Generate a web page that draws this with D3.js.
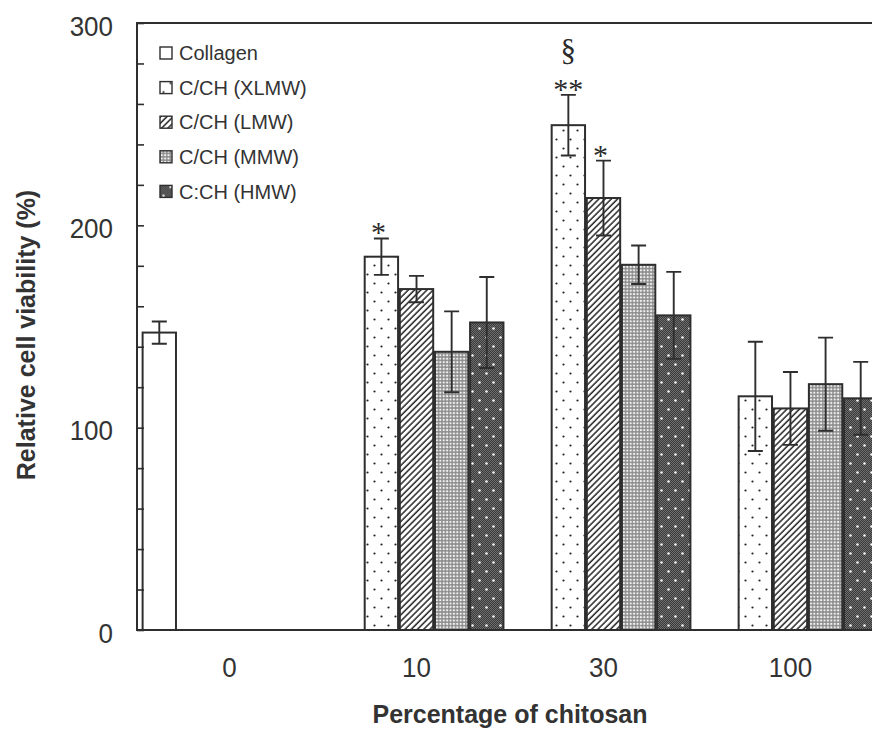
<!DOCTYPE html>
<html>
<head>
<meta charset="utf-8">
<script src="https://cdn.jsdelivr.net/npm/d3@7"></script>
<style>
  html, body { margin: 0; padding: 0; background: #fff; }
  svg { display: block; }
</style>
</head>
<body>
<svg id="chart" width="872" height="729"></svg>
<script>
// Chitosan content groups and material series
const categories = ["0", "10", "30", "100"];
const series = ["Collagen", "C/CH (XLMW)", "C/CH (LMW)", "C/CH (MMW)", "C:CH (HMW)"];

// Mean relative cell viability (%) per group; null = not measured
const collagen = [147, null, null, null];
const xlmw     = [null, 184.5, 249.5, 115.5];
const lmw      = [null, 168.5, 213.5, 109.5];
const mmw      = [null, 137.5, 180.5, 121.5];
const hmw      = [null, 152, 155.5, 114.5];

// Standard deviations
const collagenErr = [5.5, null, null, null];
const xlmwErr     = [null, 9, 15, 27];
const lmwErr      = [null, 6.5, 18.5, 18];
const mmwErr      = [null, 20, 9.5, 23];
const hmwErr      = [null, 22.5, 21.5, 18];

// Y axis ticks
const majorTicks = [0, 100, 200, 300];
const minorTicks = d3.range(0, 301, 20);

// Significance marks: group, series, symbol, stacking level
const sigGroup  = ["10", "30", "30", "30"];
const sigSeries = ["C/CH (XLMW)", "C/CH (XLMW)", "C/CH (LMW)", "C/CH (XLMW)"];
const sigText   = ["*", "**", "*", "§"];
const sigLevel  = [0, 0, 0, 1];

const values = [collagen, xlmw, lmw, mmw, hmw];
const errors = [collagenErr, xlmwErr, lmwErr, mmwErr, hmwErr];
const fills = ["#ffffff", "url(#pat-xlmw)", "url(#pat-lmw)", "url(#pat-mmw)", "url(#pat-hmw)"];

const ink = "#2e2e2e";
const textInk = "#333333";
const sans = "Liberation Sans, Arial, sans-serif";

const svg = d3.select("#chart");

// ---- fill patterns ----
const defs = svg.append("defs");

const pDots = defs.append("pattern").attr("id", "pat-xlmw")
  .attr("patternUnits", "userSpaceOnUse").attr("width", 14).attr("height", 18);
pDots.append("rect").attr("width", 14).attr("height", 18).attr("fill", "#fff");
pDots.append("circle").attr("cx", 3.5).attr("cy", 4.5).attr("r", 1.1).attr("fill", "#222");
pDots.append("circle").attr("cx", 10.5).attr("cy", 13.5).attr("r", 1.1).attr("fill", "#222");

const pHatch = defs.append("pattern").attr("id", "pat-lmw")
  .attr("patternUnits", "userSpaceOnUse").attr("width", 4.4).attr("height", 10)
  .attr("patternTransform", "rotate(45)");
pHatch.append("rect").attr("width", 4.4).attr("height", 10).attr("fill", "#fff");
pHatch.append("line").attr("x1", 1).attr("x2", 1).attr("y1", 0).attr("y2", 10)
  .attr("stroke", "#262626").attr("stroke-width", 1.5);

const pFine = defs.append("pattern").attr("id", "pat-mmw")
  .attr("patternUnits", "userSpaceOnUse").attr("width", 3.4).attr("height", 3.4);
pFine.append("rect").attr("width", 3.4).attr("height", 3.4).attr("fill", "#8c8c8c");
pFine.append("circle").attr("cx", 1.7).attr("cy", 1.7).attr("r", 1.15).attr("fill", "#f2f2f2");

const pCheck = defs.append("pattern").attr("id", "pat-check")
  .attr("patternUnits", "userSpaceOnUse").attr("width", 2).attr("height", 2);
pCheck.append("rect").attr("width", 2).attr("height", 2).attr("fill", "#3a3a3a");
pCheck.append("rect").attr("width", 1).attr("height", 1).attr("fill", "#6e6e6e");
pCheck.append("rect").attr("x", 1).attr("y", 1).attr("width", 1).attr("height", 1).attr("fill", "#6e6e6e");

const pDark = defs.append("pattern").attr("id", "pat-hmw")
  .attr("patternUnits", "userSpaceOnUse").attr("width", 14).attr("height", 18);
pDark.append("rect").attr("width", 14).attr("height", 18).attr("fill", "url(#pat-check)");
pDark.append("circle").attr("cx", 3.5).attr("cy", 4.5).attr("r", 1.3).attr("fill", "#f4f4f4");
pDark.append("circle").attr("cx", 10.5).attr("cy", 13.5).attr("r", 1.3).attr("fill", "#f4f4f4");

// ---- scales ----
const y = d3.scaleLinear().domain([0, 300]).range([630, 23]);
const x0 = d3.scaleBand().domain(categories).range([137, 883])
  .paddingInner(0.07).paddingOuter(0.03);
const x1 = d3.scaleBand().domain(series).range([0, x0.bandwidth()]).paddingInner(0.05);

// ---- bars ----
const barData = [];
series.forEach((s, si) => {
  categories.forEach((c, ci) => {
    const v = values[si][ci];
    if (v != null) barData.push({ s, si, c, v, e: errors[si][ci] });
  });
});

const bars = svg.append("g");
bars.selectAll("rect").data(barData).join("rect")
  .attr("x", d => x0(d.c) + x1(d.s))
  .attr("y", d => y(d.v))
  .attr("width", x1.bandwidth())
  .attr("height", d => y(0) - y(d.v))
  .attr("fill", d => fills[d.si])
  .attr("stroke", ink).attr("stroke-width", 2);

// ---- error bars ----
const capHalf = 7.5;
const eb = svg.append("g").attr("stroke", ink).attr("stroke-width", 1.9).attr("fill", "none");
eb.selectAll("path").data(barData.filter(d => d.e != null)).join("path")
  .attr("d", d => {
    const cx = x0(d.c) + x1(d.s) + x1.bandwidth() / 2;
    const top = y(d.v + d.e), bot = y(d.v - d.e);
    return `M${cx},${top}V${bot}M${cx - capHalf},${top}H${cx + capHalf}M${cx - capHalf},${bot}H${cx + capHalf}`;
  });

// ---- frame ----
const frame = svg.append("g").attr("stroke", ink).attr("stroke-width", 2).attr("fill", "none");
frame.append("line").attr("x1", 137).attr("x2", 872).attr("y1", y(300)).attr("y2", y(300));
frame.append("line").attr("x1", 137).attr("x2", 872).attr("y1", y(0)).attr("y2", y(0));
frame.append("line").attr("x1", 137).attr("x2", 137).attr("y1", y(300) - 1).attr("y2", y(0) + 1);

// ---- y axis: inward minor ticks ----
const minorAxis = svg.append("g").attr("transform", "translate(137,0)")
  .call(d3.axisLeft(y).tickValues(minorTicks).tickSize(-7).tickSizeOuter(0).tickFormat(""));
minorAxis.select(".domain").remove();
minorAxis.selectAll(".tick line").attr("stroke", ink).attr("stroke-width", 1.6);

// ---- y axis labels ----
const labelAxis = svg.append("g").attr("transform", "translate(137,0)")
  .call(d3.axisLeft(y).tickValues(majorTicks).tickSize(0).tickPadding(24));
labelAxis.select(".domain").remove();
labelAxis.selectAll("text")
  .attr("font-family", sans)
  .attr("font-size", 26).attr("fill", textInk)
  .attr("dy", "0.36em")
  .attr("transform", "translate(0,2) scale(1,1.08)");

// ---- x category labels ----
const xAxis = svg.append("g").attr("transform", `translate(0,${y(0)})`)
  .call(d3.axisBottom(x0).tickSize(0).tickPadding(0));
xAxis.select(".domain").remove();
xAxis.selectAll("text")
  .attr("font-family", sans)
  .attr("font-size", 26).attr("fill", textInk)
  .attr("dy", 0).attr("y", 0)
  .attr("transform", "translate(0,47) scale(1,1.08)");

// ---- axis titles ----
svg.append("text")
  .attr("x", 510).attr("y", 723)
  .attr("text-anchor", "middle")
  .attr("font-family", sans)
  .attr("font-weight", "bold").attr("font-size", 25).attr("fill", textInk)
  .text("Percentage of chitosan");

svg.append("text")
  .attr("transform", "translate(35,335) rotate(-90)")
  .attr("text-anchor", "middle")
  .attr("font-family", sans)
  .attr("font-weight", "bold").attr("font-size", 25).attr("fill", textInk)
  .text("Relative cell viability (%)");

// ---- legend ----
const legend = svg.append("g").attr("transform", "translate(160,53)");
const rows = legend.selectAll("g").data(series).join("g")
  .attr("transform", (d, i) => `translate(0,${i * 34.6})`);
rows.append("rect")
  .attr("x", 0).attr("y", -6).attr("width", 12).attr("height", 12)
  .attr("fill", (d, i) => fills[i])
  .attr("stroke", ink).attr("stroke-width", 1.4);
rows.append("text")
  .attr("x", 19).attr("y", 0).attr("dy", "0.36em")
  .attr("font-family", sans)
  .attr("font-size", 20).attr("fill", textInk)
  .text(d => d);

// ---- significance marks ----
const sig = sigText.map((t, i) => {
  const si = series.indexOf(sigSeries[i]);
  const ci = categories.indexOf(sigGroup[i]);
  return {
    t, level: sigLevel[i],
    cx: x0(sigGroup[i]) + x1(sigSeries[i]) + x1.bandwidth() / 2,
    top: y(values[si][ci] + errors[si][ci])
  };
});
svg.append("g").selectAll("text").data(sig).join("text")
  .attr("x", d => d.cx - (d.t === "*" ? 3 : 0))
  .attr("y", d => d.level === 0 ? d.top + 4 : d.top - 34)
  .attr("text-anchor", "middle")
  .attr("font-family", "Liberation Serif, Times New Roman, serif")
  .attr("font-size", d => d.level === 0 ? 30 : 31)
  .attr("fill", "#2a2a2a")
  .text(d => d.t);
</script>
</body>
</html>
